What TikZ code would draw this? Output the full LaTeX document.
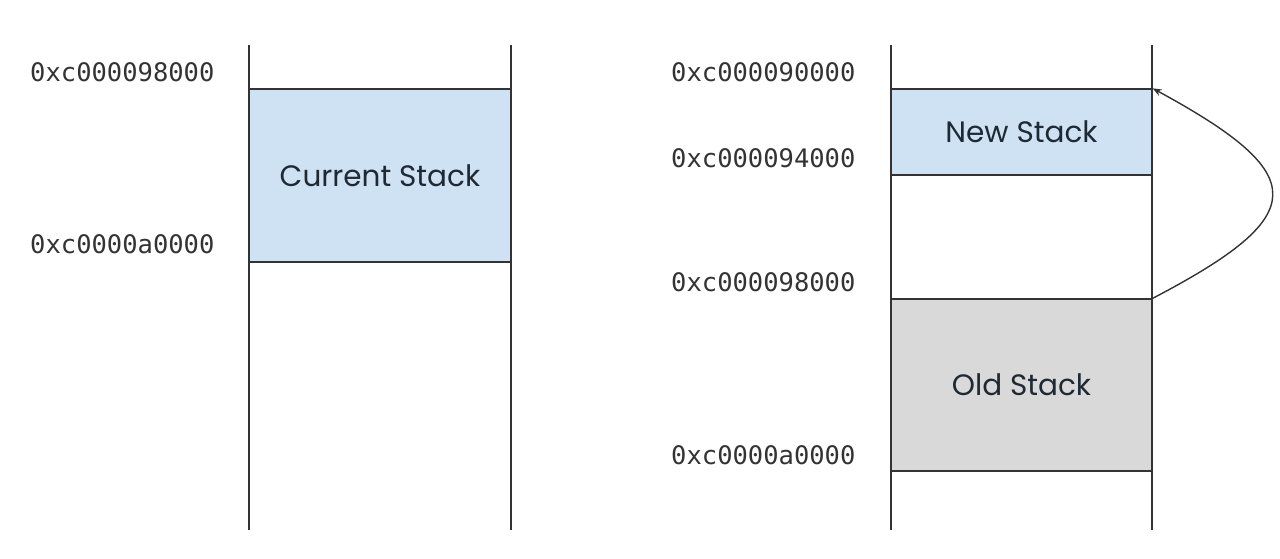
\documentclass[tikz,border=0pt]{standalone}
\usepackage{fontspec}
\setmainfont{Poppins}
\newfontfamily\addrfont{DejaVu Sans Mono}
\usetikzlibrary{arrows.meta}
\definecolor{stackblue}{HTML}{CFE2F3}
\definecolor{stackgray}{HTML}{D9D9D9}
\definecolor{linec}{HTML}{333333}
\definecolor{txtc}{HTML}{1F2933}
\tikzset{
  blk/.style={draw=linec, line width=1.3pt, inner sep=0pt, font=\fontsize{29.5}{34}\selectfont, text=txtc},
  rail/.style={draw=linec, line width=1.3pt},
  addr/.style={anchor=west, inner sep=0pt, font=\addrfont\fontsize{25.5}{30}\selectfont, text=linec},
  jump/.style={draw=linec, line width=1.4pt, -{Stealth[length=9pt,width=7pt]}}
}
\begin{document}
\begin{tikzpicture}[x=1pt,y=-1pt]
\useasboundingbox (0,0) rectangle (1280,559);
% left column
\draw[rail] (249,45) -- (249,530);
\draw[rail] (511,45) -- (511,530);
\node[blk, fill=stackblue, minimum width=262pt, minimum height=173pt] (cur) at (380,175.5) {Current Stack};
\node[addr] (la1) at (30,72) {0xc000098000};
\node[addr] (la2) at (30,244) {0xc0000a0000};
% right column
\draw[rail] (891,45) -- (891,530);
\draw[rail] (1152,45) -- (1152,530);
\node[blk, fill=stackblue, minimum width=261pt, minimum height=86pt] (new) at (1021.5,132) {New Stack};
\node[blk, fill=stackgray, minimum width=261pt, minimum height=172pt] (old) at (1021.5,385) {Old Stack};
\node[addr] (ra1) at (671,72) {0xc000090000};
\node[addr] (ra2) at (671,158) {0xc000094000};
\node[addr] (ra3) at (671,282) {0xc000098000};
\node[addr] (ra4) at (671,455) {0xc0000a0000};
\draw[jump] (old.north east) .. controls (1312,215) and (1312,175) .. (new.north east);
\end{tikzpicture}
\end{document}
